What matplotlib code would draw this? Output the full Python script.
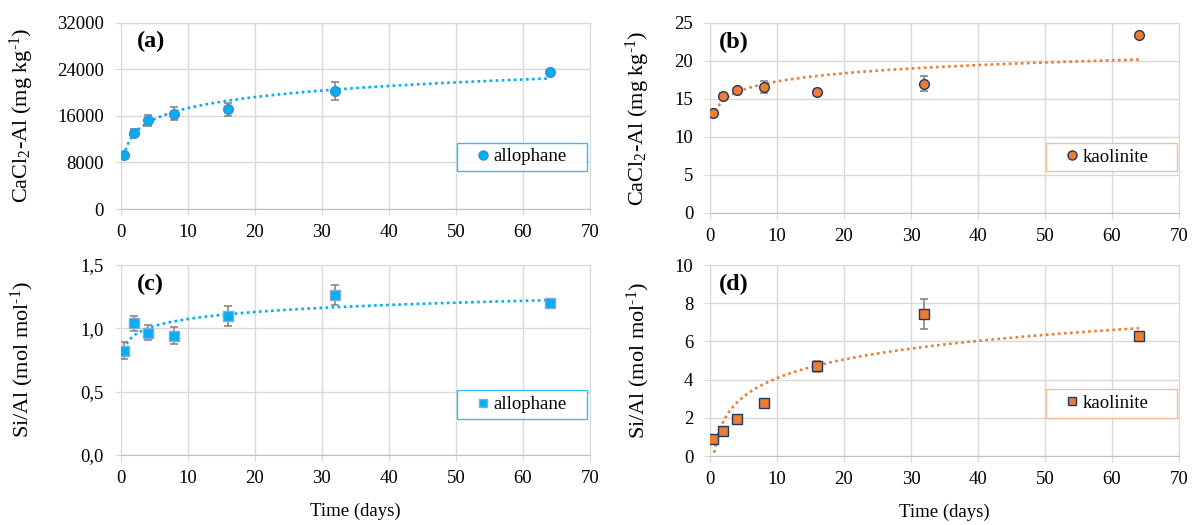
import numpy as np
import matplotlib
matplotlib.use('Agg')
from matplotlib import pyplot as plt
from matplotlib.lines import Line2D

plt.rcParams['font.family'] = ['Liberation Serif', 'DejaVu Serif']
plt.rcParams['mathtext.fontset'] = 'custom'
plt.rcParams['mathtext.rm'] = 'Liberation Serif'
plt.rcParams['mathtext.it'] = 'Liberation Serif:italic'

# tiempo de incubacion (dias)
days = [0.5, 2, 4, 8, 16, 32, 64]

# CaCl2-Al
al_allophane = [9300, 13050, 15200, 16400, 17150, 20300, 23600]
al_allophane_err = [550, 730, 950, 1150, 1130, 1500, 200]
al_kaolinite = [13.1, 15.45, 16.15, 16.6, 15.95, 17.0, 23.4]
al_kaolinite_err = [0.2, 0.4, 0.3, 0.8, 0.3, 1.0, 0.2]

# razon Si/Al
sial_allophane = [0.823, 1.04, 0.965, 0.94, 1.10, 1.265, 1.20]
sial_allophane_err = [0.068, 0.06, 0.06, 0.067, 0.08, 0.08, 0.01]
sial_kaolinite = [0.87, 1.33, 1.94, 2.79, 4.71, 7.43, 6.30]
sial_kaolinite_err = [0.1, 0.1, 0.1, 0.08, 0.29, 0.77, 0.1]

xticks = [0, 10, 20, 30, 40, 50, 60, 70]
yticks_a = [0, 8000, 16000, 24000, 32000]
yticks_b = [0, 5, 10, 15, 20, 25]
yticks_c = [0.0, 0.5, 1.0, 1.5]
yticklabels_c = ['0,0', '0,5', '1,0', '1,5']
yticks_d = [0, 2, 4, 6, 8, 10]

BLUE = '#00B0F0'
ORANGE = '#ED7D31'
GRID = '#D9D9D9'

fig = plt.figure(figsize=(11.92, 5.25), dpi=100)

paneles = [
    # pos, y, err, color, edge, marcador, letra, ylabel, yticks, ylabels, leyenda, borde leyenda
    ([0.1013, 0.6019, 0.3935, 0.3549], al_allophane, al_allophane_err, BLUE, '#3C8FD6', 'o', '(a)',
     r'CaCl$_\mathrm{2}$-Al (mg kg$^\text{-1}$)', yticks_a, None, 'allophane', BLUE, 0.28),
    ([0.5956, 0.5943, 0.3935, 0.3619], al_kaolinite, al_kaolinite_err, ORANGE, '#1F3864', 'o', '(b)',
     r'CaCl$_\mathrm{2}$-Al (mg kg$^\text{-1}$)', yticks_b, None, 'kaolinite', '#F4B183', 0.295),
    ([0.1013, 0.1333, 0.3935, 0.3619], sial_allophane, sial_allophane_err, BLUE, '#8AA6E0', 's', '(c)',
     r'Si/Al (mol mol$^\text{-1}$)', yticks_c, yticklabels_c, 'allophane', BLUE, 0.265),
    ([0.5956, 0.1314, 0.3935, 0.3638], sial_kaolinite, sial_kaolinite_err, ORANGE, '#1F3864', 's', '(d)',
     r'Si/Al (mol mol$^\text{-1}$)', yticks_d, None, 'kaolinite', '#F4B183', 0.275),
]

for i, (pos, y, err, col, edge, mk, letra, ylab, yt, ytl, nombre, borde, ley_y) in enumerate(paneles):
    ax = fig.add_axes(pos)
    x = np.array(days)
    yy = np.array(y)

    # linea de tendencia logaritmica (como en excel)
    a, b = np.polyfit(np.log(x), yy, 1)
    xs = np.linspace(x.min(), x.max(), 400)
    ax.plot(xs, a*np.log(xs) + b, linestyle=(0, (1, 1.3)), color=col, lw=1.9, zorder=2)

    ax.errorbar(x, yy, yerr=err, fmt='none', ecolor='#7F7F7F', elinewidth=1.1, capsize=3, capthick=1.1, zorder=3)
    ms = 7 if mk == 'o' else 6.5
    ax.plot(x, yy, linestyle='none', marker=mk, ms=ms, mfc=col, mec=edge, mew=1.0, zorder=4)

    ax.set_xlim(0, 70)
    ax.set_ylim(yt[0], yt[-1])
    ax.set_xticks(xticks)
    ax.set_yticks(yt)
    if ytl is not None:
        ax.set_yticklabels(ytl)
    ax.grid(True, color=GRID, lw=1)
    ax.set_axisbelow(True)
    for s in ax.spines.values():
        s.set_color(GRID)
    ax.spines['bottom'].set_color('#BFBFBF')
    ax.tick_params(axis='both', direction='out', length=4, color=GRID, labelsize=13.5)
    ax.tick_params(axis='x', pad=7)
    ax.tick_params(axis='y', pad=8)

    ax.set_ylabel(ylab, fontsize=16)
    ax.yaxis.set_label_coords(-0.18 if i % 2 == 0 else -0.124, 0.5)
    if i >= 2:
        ax.set_xlabel('Time (days)', fontsize=13.5, labelpad=11)

    ax.text(0.035 if i % 2 == 0 else 0.02, 0.9, letra, transform=ax.transAxes,
            fontsize=17.5, fontweight='bold', va='center', ha='left')

    h = Line2D([], [], linestyle='none', marker=mk, ms=ms - 0.5, mfc=col, mec=edge, mew=1.0)
    leg = ax.legend([h], [nombre], loc='center', bbox_to_anchor=(0.716, ley_y - 0.07, 0.279, 0.14),
                    mode='expand',
                    fontsize=13.5, frameon=True, fancybox=False, handlelength=2.2,
                    handletextpad=-0.55, borderpad=0.3, borderaxespad=0)
    leg.get_frame().set_edgecolor(borde)
    leg.get_frame().set_linewidth(1.0)

plt.savefig('out.png', dpi=100)
